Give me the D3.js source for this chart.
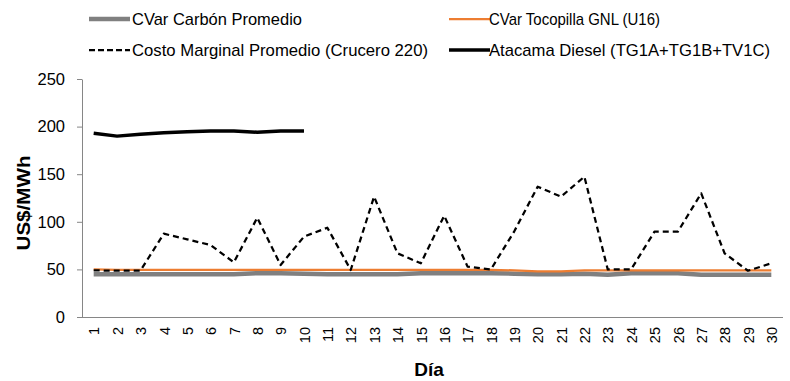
<!DOCTYPE html>
<html><head><meta charset="utf-8">
<script src="https://cdn.jsdelivr.net/npm/d3@7"></script>
<style>
html,body{margin:0;padding:0;background:#fff;}
svg{display:block;font-family:"Liberation Sans",Arial,sans-serif;}
</style></head>
<body><svg id="c" width="790" height="381"></svg>
<script>
const days = d3.range(1,31).map(String);
const yTicks = [0,50,100,150,200,250];
const carbon = [45,45,45,45,45,45,45,46,46,45.5,45,45,45,45,46,46,46,46,45.5,45,45,45.5,44.5,46,46,46,44.5,44.5,44.5,44.5];
const tocopilla = [50,49.5,49.5,49.5,49.5,49.5,49.5,49.5,49.5,49.5,49.5,49.5,49.5,49.5,49.5,49.5,49.5,49.5,49,48,48,49,49,49,49,49,49,49,49,49];
const marginal = [49,48.6,48.6,87.5,81.6,75.6,57.4,104.3,54.6,84.4,93.8,49.4,126.4,66.9,56.4,106.4,52.9,50,90,136.9,126.4,147.4,50,50,89.6,89.6,129.9,66.9,48.6,56.4];
const diesel = [193,190,192,193.5,194.5,195.5,195.5,194,195.5,195.5];
const seriesNames = ["CVar Carbón Promedio","CVar Tocopilla GNL (U16)","Costo Marginal Promedio (Crucero 220)","Atacama Diesel (TG1A+TG1B+TV1C)"];

const svg = d3.select("#c");
const x = d3.scalePoint().domain(days).range([82,783]).padding(0.5);
const y = d3.scaleLinear().domain([0,250]).range([317,79]);
const axisColor = "#868686";

// Y axis
const ya = svg.append("g").attr("transform","translate(82,0)")
  .call(d3.axisLeft(y).tickValues(yTicks).tickSize(5).tickSizeOuter(0).tickPadding(12));
ya.select(".domain").attr("stroke",axisColor);
ya.selectAll(".tick line").attr("stroke",axisColor);
ya.selectAll(".tick text").attr("font-size",16.5).attr("fill","#000").attr("font-family","Liberation Sans");

// X axis
const xa = svg.append("g").attr("transform","translate(0,317)")
  .call(d3.axisBottom(x).tickSize(0).tickSizeOuter(0));
xa.select(".domain").attr("stroke",axisColor).attr("d","M82,0.5H783");
xa.selectAll(".tick text")
  .attr("font-size",14.5).attr("fill","#000").attr("font-family","Liberation Sans")
  .attr("transform","rotate(-90)").attr("text-anchor","end")
  .attr("x",-10).attr("y",0).attr("dy","0.36em");

// Axis titles
svg.append("text").attr("x",429).attr("y",376).attr("text-anchor","middle")
  .attr("font-size",19).attr("font-weight","bold").text("Día");
svg.append("text").attr("transform","translate(30,203) rotate(-90)").attr("text-anchor","middle")
  .attr("font-size",19).attr("font-weight","bold").attr("textLength",95).attr("lengthAdjust","spacingAndGlyphs").text("US$/MWh");

const line = d3.line().x((d,i)=>x(days[i])).y(d=>y(d));
const styles = [
  {data:carbon,color:"#808080",w:4.5,dash:null},
  {data:tocopilla,color:"#ED7D31",w:2.25,dash:null},
  {data:marginal,color:"#000",w:2.25,dash:"6,4"},
  {data:diesel,color:"#000",w:3.5,dash:null}
];
styles.forEach(s=>{
  svg.append("path").datum(s.data).attr("d",line)
    .attr("fill","none").attr("stroke",s.color).attr("stroke-width",s.w)
    .attr("stroke-linejoin","round")
    .attr("stroke-dasharray",s.dash);
});

// Legend
const leg = [
  {x:89,y:19,tx:132,tw:170,si:0},
  {x:449,y:19,tx:489,tw:171,si:1},
  {x:89,y:50,tx:132,tw:296,si:2},
  {x:449,y:50,tx:489,tw:281,si:3}
];
leg.forEach(l=>{
  const s = styles[l.si];
  svg.append("line").attr("x1",l.x).attr("x2",l.x+41).attr("y1",l.y).attr("y2",l.y)
    .attr("stroke",s.color).attr("stroke-width",s.w).attr("stroke-dasharray",s.dash?"6,3":null)
    .attr("stroke-linecap",s.si===0?"round":"butt");
  svg.append("text").attr("x",l.tx).attr("y",l.y).attr("dy","0.36em")
    .attr("font-size",17).attr("fill","#000")
    .attr("textLength",l.tw).attr("lengthAdjust","spacingAndGlyphs")
    .text(seriesNames[l.si]);
});
</script></body></html>
